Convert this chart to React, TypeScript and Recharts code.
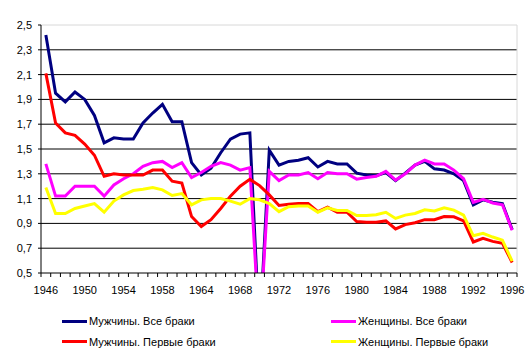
import { LineChart, Line, XAxis, YAxis, CartesianGrid, ReferenceLine, Legend } from "recharts";

// categories (one year-group per category, as in the source sheet)
const years = [
    "1946", "1947", "1948", "1949", "1950", "1951", "1952", "1953", "1954", "1955",
    "1956", "1957", "1958", "1959", "1960", "1961", "1964", "1965", "1966", "1967",
    "1968", "1969", "1970", "1971", "1972", "1973", "1974", "1975", "1976", "1977",
    "1978", "1979", "1980", "1981", "1982", "1983", "1984", "1985", "1986", "1987",
    "1988", "1989", "1990", "1991", "1992", "1993", "1994", "1995", "1996",
];

const tickLabels = ["1946", "1950", "1954", "1958", "1964", "1968", "1972", "1976", "1980", "1984", "1988", "1992", "1996"];
const yTicks = [0.5, 0.7, 0.9, 1.1, 1.3, 1.5, 1.7, 1.9, 2.1, 2.3, 2.5];
const gridValues = [0.7, 0.9, 1.1, 1.3, 1.5, 1.7, 1.9, 2.1, 2.3];

const menAll = [
    2.42, 1.95, 1.88, 1.96, 1.9, 1.77, 1.55, 1.59, 1.58, 1.58,
    1.71, 1.79, 1.86, 1.72, 1.72, 1.39, 1.29, 1.345, 1.47, 1.58,
    1.62, 1.63, 0, 1.49, 1.37, 1.4, 1.41, 1.43, 1.355, 1.4,
    1.38, 1.38, 1.305, 1.29, 1.285, 1.31, 1.245, 1.305, 1.37, 1.4,
    1.34, 1.33, 1.3, 1.245, 1.05, 1.09, 1.07, 1.06, 0.85,
];
const womenAll = [
    1.38, 1.12, 1.12, 1.2, 1.2, 1.2, 1.12, 1.21, 1.26, 1.3,
    1.36, 1.39, 1.4, 1.35, 1.39, 1.27, 1.31, 1.36, 1.39, 1.37,
    1.33, 1.35, 0, 1.32, 1.245, 1.29, 1.29, 1.31, 1.26, 1.31,
    1.3, 1.3, 1.257, 1.27, 1.28, 1.32, 1.25, 1.3, 1.37, 1.41,
    1.38, 1.38, 1.33, 1.26, 1.07, 1.095, 1.065, 1.05, 0.845,
];
const menFirst = [
    2.11, 1.71, 1.63, 1.61, 1.54, 1.45, 1.28, 1.3, 1.29, 1.29,
    1.29, 1.33, 1.33, 1.24, 1.225, 0.955, 0.875, 0.93, 1.02, 1.12,
    1.2, 1.255, 1.205, 1.13, 1.045, 1.055, 1.06, 1.06, 0.995, 1.03,
    0.99, 0.99, 0.915, 0.91, 0.91, 0.92, 0.855, 0.89, 0.905, 0.93,
    0.93, 0.955, 0.953, 0.92, 0.75, 0.78, 0.755, 0.74, 0.585,
];
const womenFirst = [
    1.19, 0.98, 0.98, 1.02, 1.04, 1.06, 0.99, 1.08, 1.13, 1.165,
    1.175, 1.19, 1.17, 1.125, 1.14, 1.05, 1.09, 1.1, 1.1, 1.08,
    1.055, 1.1, 1.09, 1.06, 0.995, 1.035, 1.04, 1.04, 0.99, 1.025,
    1.005, 1.005, 0.964, 0.964, 0.97, 0.99, 0.94, 0.967, 0.98, 1.01,
    1.0, 1.025, 1.007, 0.967, 0.8, 0.82, 0.79, 0.765, 0.595,
];

const series = [
    { key: "menAll", name: "Мужчины. Все браки", color: "#000080", values: menAll },
    { key: "womenAll", name: "Женщины. Все браки", color: "#FF00FF", values: womenAll },
    { key: "menFirst", name: "Мужчины. Первые браки", color: "#FF0000", values: menFirst },
    { key: "womenFirst", name: "Женщины. Первые браки", color: "#FFFF00", values: womenFirst },
];

const data = years.map((year, i) => {
    const row: Record<string, number | string> = { idx: i, year };
    series.forEach((s) => {
        row[s.key] = s.values[i];
    });
    return row;
});

// category boundaries carry the small tick marks, labels sit in the middle of a category
const boundaries = years.map((_, i) => i - 0.5).concat(years.length - 0.5);

const FONT = "'Liberation Sans', Arial, sans-serif";
const PLOT_LEFT = 41;
const PLOT_RIGHT = 517;
const halfCat = (PLOT_RIGHT - PLOT_LEFT) / years.length / 2;

const XTick = (props: any) => {
    const { x, y, payload } = props;
    const label = years[Math.round(payload.value + 0.5)];
    if (!label || !tickLabels.includes(label)) return <g />;
    return (
        <text x={x + halfCat} y={y + 7} dy="0.71em" textAnchor="middle" fontSize={11} fill="#000">
            {label}
        </text>
    );
};

const LegendBox = () => (
    <div style={{ position: "relative", width: 532, height: 58, fontSize: 11, color: "#000" }}>
        {series.map((s, k) => (
            <div
                key={s.key}
                style={{
                    position: "absolute",
                    left: k % 2 === 0 ? 62 : 331,
                    top: 16 + Math.floor(k / 2) * 20.7,
                    height: 20,
                    display: "flex",
                    alignItems: "center",
                    whiteSpace: "nowrap",
                }}
            >
                <span style={{ display: "inline-block", width: 25, height: 3, background: s.color, marginRight: 2 }} />
                <span>{s.name}</span>
            </div>
        ))}
    </div>
);

export default function App() {
    return (
        <div style={{ position: "absolute", left: 0, top: 0, background: "#fff", fontFamily: FONT }}>
            <LineChart
                width={532}
                height={357}
                data={data}
                margin={{ top: 25, right: 532 - PLOT_RIGHT, bottom: 4, left: 0 }}
                style={{ fontFamily: FONT }}
            >
                <CartesianGrid vertical={false} stroke="#000" horizontalValues={gridValues} />
                <XAxis
                    type="number"
                    dataKey="idx"
                    domain={[-0.5, years.length - 0.5]}
                    ticks={boundaries}
                    interval={0}
                    height={22}
                    tickSize={4}
                    tick={<XTick />}
                    axisLine={{ stroke: "#000" }}
                    tickLine={{ stroke: "#000" }}
                />
                <YAxis
                    type="number"
                    domain={[0.5, 2.5]}
                    ticks={yTicks}
                    interval={0}
                    allowDataOverflow
                    width={PLOT_LEFT}
                    tickSize={3}
                    tickMargin={6}
                    tick={{ fill: "#000", fontSize: 11 }}
                    tickFormatter={(v: number) => v.toFixed(1).replace(".", ",")}
                    axisLine={{ stroke: "#000" }}
                    tickLine={{ stroke: "#000" }}
                />
                <ReferenceLine y={2.5} stroke="#d8d8d8" />
                <ReferenceLine x={years.length - 0.5} stroke="#d8d8d8" />
                <Legend
                    verticalAlign="bottom"
                    content={<LegendBox />}
                    wrapperStyle={{ left: 0, width: 532, bottom: 4 }}
                />
                {series.map((s) => (
                    <Line
                        key={s.key}
                        type="linear"
                        dataKey={s.key}
                        name={s.name}
                        stroke={s.color}
                        strokeWidth={3}
                        dot={false}
                        isAnimationActive={false}
                    />
                ))}
            </LineChart>
        </div>
    );
}
